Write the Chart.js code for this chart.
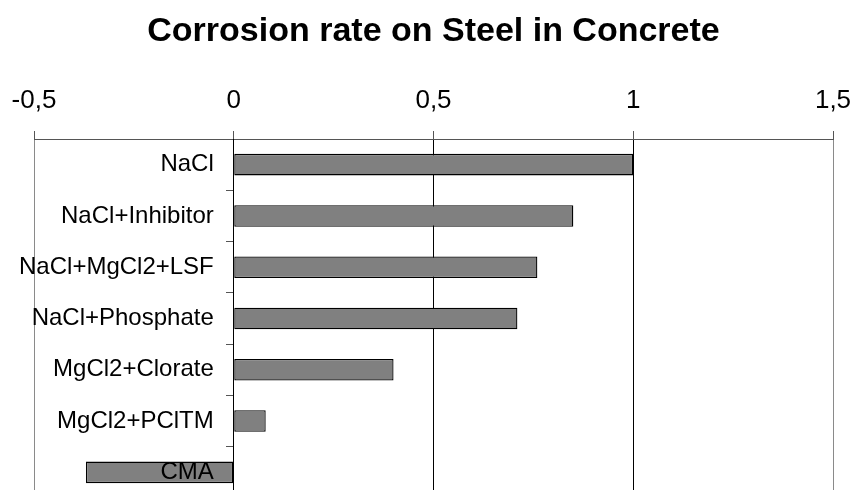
<!DOCTYPE html>
<html>
<head>
<meta charset="utf-8">
<script src="https://cdn.jsdelivr.net/npm/chart.js@4"></script>
<style>
  html, body { margin: 0; padding: 0; background: #fff; overflow: hidden; }
  #wrap { width: 855px; height: 500px; }
</style>
</head>
<body>
<div id="wrap"><canvas id="myChart" width="855" height="500"></canvas></div>
<script>
  const categories = [
    "NaCl",
    "NaCl+Inhibitor",
    "NaCl+MgCl2+LSF",
    "NaCl+Phosphate",
    "MgCl2+Clorate",
    "MgCl2+PClTM",
    "CMA",
  ];

  const corrosionRate = [1.0, 0.85, 0.76, 0.71, 0.40, 0.08, -0.37];

  const xTicks = [-0.5, 0, 0.5, 1, 1.5];

  const FONT = "'Liberation Sans', Arial, sans-serif";

  // formats 0.5 as "0,5"
  function commaNumber(value) {
    return String(value).replace(".", ",");
  }

  // keep scales from pushing the plot area inwards
  function noPadding(scale) {
    scale.paddingLeft = 0;
    scale.paddingRight = 0;
    scale.paddingTop = 0;
    scale.paddingBottom = 0;
  }

  const ctx = document.getElementById("myChart").getContext("2d");

  const chart = new Chart(ctx, {
    type: "bar",
    data: {
      labels: categories,
      datasets: [
        {
          label: "Corrosion rate",
          data: corrosionRate,
          backgroundColor: "#808080",
          borderColor: "#000000",
          borderWidth: 1.3,
          borderSkipped: false,
          barPercentage: 0.42,
          categoryPercentage: 1,
          yAxisID: "y",
        },
      ],
    },
    options: {
      indexAxis: "y",
      responsive: false,
      animation: false,
      layout: {
        padding: { left: 34, right: 22, top: 0, bottom: 2 },
      },
      plugins: {
        legend: { display: false },
        tooltip: { enabled: false },
        title: {
          display: true,
          text: "Corrosion rate on Steel in Concrete",
          color: "#000",
          font: { family: FONT, size: 34, weight: "bold" },
          padding: { top: 11, bottom: 18 },
        },
      },
      scales: {
        x: {
          type: "linear",
          position: "top",
          min: xTicks[0],
          max: xTicks[xTicks.length - 1],
          afterBuildTicks: (scale) => {
            scale.ticks = xTicks.map((v) => ({ value: v }));
          },
          afterFit: noPadding,
          ticks: {
            color: "#000",
            font: { family: FONT, size: 26 },
            padding: 15,
            callback: (value) => commaNumber(value),
          },
          grid: {
            color: (c) => (c.tick && (c.tick.value === -0.5 || c.tick.value === 1.5) ? "#8a8a8a" : "#000"),
            tickColor: "#555",
            tickLength: 8,
            lineWidth: 1,
          },
          border: { display: true, color: "#555", width: 1 },
        },
        y: {
          type: "category",
          position: { x: 0 },
          offset: true,
          afterFit: noPadding,
          ticks: { display: false },
          grid: {
            offset: true,
            drawOnChartArea: false,
            drawTicks: true,
            tickLength: 7,
            tickColor: "#555",
          },
          border: { display: true, color: "#000", width: 1 },
        },
        // second category axis only for the names, placed a bit left of zero
        yl: {
          type: "category",
          labels: categories,
          position: { x: -0.05 },
          offset: true,
          afterFit: noPadding,
          ticks: {
            color: "#000",
            font: { family: FONT, size: 24 },
            z: 1,
          },
          grid: { display: false },
          border: { display: false },
        },
      },
    },
  });
</script>
</body>
</html>
